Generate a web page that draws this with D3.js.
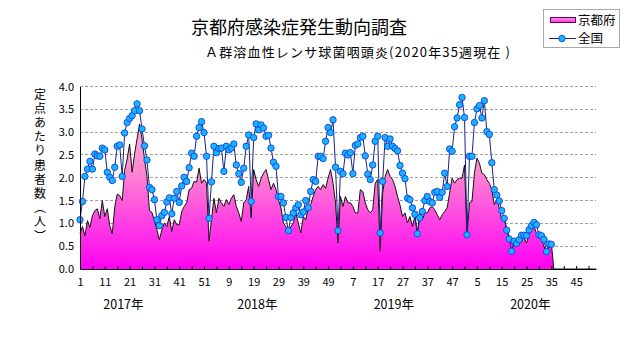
<!DOCTYPE html>
<html>
<head>
<meta charset="utf-8">
<script src="https://cdn.jsdelivr.net/npm/d3@7"></script>
<style>
  body { margin: 0; background: #fff; }
  svg { display: block; }
  text { font-family: "Noto Sans CJK JP", "Noto Sans", sans-serif; fill: #000; }
</style>
</head>
<body>
<svg id="chart" width="631" height="347"></svg>
<script>
// categories
const years = [2017, 2018, 2019, 2020];
const weeksInYear = [52, 52, 52, 53];
const yearLabelWeek = [18.5, 20.5, 23.5, 26.5];
const xTickLabels = ["1", "11", "21", "31", "41", "51", "9", "19", "29", "39", "49",
  "7", "17", "27", "37", "47", "5", "15", "25", "35", "45"];
const yTicks = [0, 0.5, 1, 1.5, 2, 2.5, 3, 3.5, 4];

// 京都府 (per sentinel, weekly)
const kyoto2017 = [0.78, 0.93, 0.73, 1.06, 0.91, 1.17, 1.28, 1.32, 1.10, 1.50,
  1.15, 1.32, 0.95, 0.77, 1.35, 1.64, 1.61, 1.50, 2.16, 2.41,
  2.74, 2.12, 2.52, 2.85, 3.18, 2.85, 2.41, 2.03, 1.28, 1.24,
  1.06, 0.86, 0.64, 0.86, 1.01, 0.93, 1.15, 0.82, 1.08, 0.97,
  0.97, 1.26, 1.37, 1.45, 1.74, 1.77, 1.92, 1.90, 2.21, 1.88,
  1.96, 1.88];
const kyoto2018 = [0.61, 1.08, 1.55, 1.23, 1.55, 1.45, 1.37, 1.52, 1.41, 1.55,
  1.63, 1.37, 1.23, 1.04, 1.45, 1.52, 1.81, 1.12, 2.18, 1.96,
  1.81, 1.99, 2.10, 2.18, 1.96, 1.74, 1.88, 1.74, 1.52, 1.34,
  1.01, 0.93, 0.79, 0.93, 1.01, 1.23, 1.01, 0.79, 1.15, 1.08,
  1.34, 1.41, 1.59, 1.74, 1.81, 1.74, 1.85, 1.77, 1.99, 2.18,
  1.88, 1.45];
const kyoto2019 = [0.57, 1.59, 1.37, 1.59, 1.45, 1.45, 1.37, 1.23, 1.23, 1.74,
  1.70, 1.45, 1.30, 1.23, 1.30, 1.88, 1.96, 0.39, 1.66, 2.03,
  2.18, 2.03, 1.96, 1.81, 1.59, 1.40, 1.15, 1.23, 1.01, 1.15,
  0.93, 1.15, 0.79, 1.23, 1.08, 1.23, 1.23, 1.34, 1.37, 1.30,
  1.19, 1.08, 1.19, 1.26, 1.34, 1.66, 1.99, 1.88, 1.96, 1.99,
  1.99, 2.28];
const kyoto2020 = [0.72, 1.45, 1.48, 2.10, 2.43, 2.32, 2.10, 2.07, 1.96, 1.88,
  1.74, 1.41, 1.52, 1.34, 1.08, 1.15, 0.86, 0.72, 0.57, 0.50,
  0.61, 0.72, 0.77, 0.68, 0.57, 0.75, 0.90, 0.93, 0.79, 0.72,
  0.66, 0.50, 0.35, 0.50, 0.57,
  0, 0, 0, 0, 0, 0, 0, 0, 0, 0, 0, 0, 0, 0, 0, 0, 0, 0];

// 全国
const zenkoku2017 = [1.08, 1.48, 2.03, 2.19, 2.36, 2.19, 2.52, 2.48, 2.47, 2.65,
  2.61, 2.12, 2.01, 1.94, 2.23, 2.69, 2.72, 2.03, 2.98, 3.21,
  3.30, 3.36, 3.47, 3.62, 3.47, 3.07, 2.70, 2.39, 1.79, 1.74,
  1.52, 1.08, 0.95, 1.17, 1.24, 1.47, 1.56, 1.21, 1.55, 1.70,
  1.46, 1.82, 2.01, 1.92, 2.22, 2.54, 2.47, 2.91, 3.10, 3.23,
  2.99, 2.47];
const zenkoku2018 = [1.11, 1.91, 2.69, 2.55, 2.64, 2.65, 2.14, 2.69, 2.61, 2.65,
  2.74, 2.28, 2.09, 1.90, 2.21, 2.69, 2.94, 1.48, 2.88, 3.18,
  3.05, 3.16, 3.09, 2.91, 2.93, 2.65, 2.34, 2.25, 1.59, 1.59,
  1.45, 1.13, 0.84, 1.13, 1.23, 1.34, 1.41, 1.19, 1.25, 1.50,
  1.34, 1.70, 1.96, 1.92, 2.47, 2.47, 2.42, 2.80, 3.10, 2.99,
  3.27, 2.23];
const zenkoku2019 = [0.84, 2.14, 2.09, 2.54, 2.50, 2.55, 2.09, 2.71, 2.74, 2.88,
  2.91, 2.48, 2.08, 1.96, 2.28, 2.80, 2.91, 0.79, 1.92, 2.88,
  2.69, 2.85, 2.69, 2.64, 2.59, 2.27, 2.10, 1.98, 1.55, 1.52,
  1.34, 1.20, 0.77, 1.12, 1.26, 1.50, 1.59, 1.48, 1.45, 1.68,
  1.70, 1.57, 1.68, 2.10, 1.81, 2.63, 2.58, 3.12, 3.31, 3.60,
  3.76, 3.32];
const zenkoku2020 = [0.75, 2.47, 2.47, 3.21, 3.51, 3.58, 3.31, 3.69, 3.01, 2.95,
  2.33, 1.74, 1.62, 1.49, 1.28, 1.11, 0.85, 0.66, 0.39, 0.61,
  0.56, 0.64, 0.74, 0.74, 0.73, 0.86, 0.95, 1.02, 0.97, 0.75,
  0.73, 0.65, 0.38, 0.55, 0.54];

const plotLeft = 80, plotRight = 596, plotTop = 86.5, plotBottom = 269;

// flatten year arrays into one running week index
function flatten(arrs) {
  let out = [];
  arrs.forEach(a => a.forEach(v => out.push({ i: out.length, v: v })));
  return out;
}
const kyoto = flatten([kyoto2017, kyoto2018, kyoto2019, kyoto2020]);
const zenkoku = flatten([zenkoku2017, zenkoku2018, zenkoku2019, zenkoku2020]);
const nWeeks = d3.sum(weeksInYear);
const yearStart = weeksInYear.map((w, k) => d3.sum(weeksInYear.slice(0, k)));

const x = d3.scaleLinear().domain([0, nWeeks - 1]).range([plotLeft, plotRight]);
const y = d3.scaleLinear().domain([0, 4]).range([plotBottom, plotTop]);

const svg = d3.select("#chart");

const defs = svg.append("defs");
const grad = defs.append("linearGradient")
  .attr("id", "pinkGrad")
  .attr("gradientUnits", "userSpaceOnUse")
  .attr("x1", 0).attr("x2", 0)
  .attr("y1", y(4)).attr("y2", y(0));
grad.append("stop").attr("offset", 0).attr("stop-color", "#ffc4e2");
grad.append("stop").attr("offset", 0.45).attr("stop-color", "#ff8ad0");
grad.append("stop").attr("offset", 1).attr("stop-color", "#ff00f4");

const legGrad = defs.append("linearGradient")
  .attr("id", "legGrad").attr("x1", 0).attr("x2", 0).attr("y1", 0).attr("y2", 1);
legGrad.append("stop").attr("offset", 0).attr("stop-color", "#ff9ad6");
legGrad.append("stop").attr("offset", 1).attr("stop-color", "#ff30e8");

// gridlines
svg.append("g")
  .selectAll("line")
  .data(yTicks.filter(d => d > 0))
  .join("line")
  .attr("x1", plotLeft).attr("x2", plotRight)
  .attr("y1", d => y(d)).attr("y2", d => y(d))
  .attr("stroke", "#a0a0a0")
  .attr("stroke-dasharray", "3,2")
  .attr("shape-rendering", "crispEdges");

// 京都府 area
const area = d3.area()
  .x(d => x(d.i))
  .y0(y(0))
  .y1(d => y(d.v));
svg.append("path")
  .datum(kyoto)
  .attr("d", area)
  .attr("fill", "url(#pinkGrad)");
svg.append("path")
  .datum(kyoto)
  .attr("d", d3.line().x(d => x(d.i)).y(d => y(d.v)))
  .attr("fill", "none")
  .attr("stroke", "#111")
  .attr("stroke-width", 1);

// 全国 line with markers
svg.append("path")
  .datum(zenkoku)
  .attr("d", d3.line().x(d => x(d.i)).y(d => y(d.v)))
  .attr("fill", "none")
  .attr("stroke", "#1a237e")
  .attr("stroke-width", 1);
svg.append("g")
  .selectAll("circle")
  .data(zenkoku)
  .join("circle")
  .attr("cx", d => x(d.i))
  .attr("cy", d => y(d.v))
  .attr("r", 3.2)
  .attr("fill", "#19b4ff")
  .attr("stroke", "#1040e0")
  .attr("stroke-width", 0.9);

// axes
const yAxis = svg.append("g")
  .attr("transform", `translate(${plotLeft},0)`)
  .call(d3.axisLeft(y).tickValues(yTicks).tickFormat(d3.format(".1f")).tickSize(0).tickPadding(6));
yAxis.select(".domain").attr("stroke", "#000");
yAxis.selectAll("text").attr("font-size", 11).attr("font-family", "\"Noto Sans CJK JP\"");

const minorTicks = d3.range(0, nWeeks, 5);
const labelTicks = d3.range(0, nWeeks, 10);
const xMinor = svg.append("g")
  .attr("transform", `translate(0,${plotBottom})`)
  .call(d3.axisBottom(x).tickValues(minorTicks).tickFormat("").tickSizeInner(-3).tickSizeOuter(0));
xMinor.selectAll("line").attr("stroke", "#000");
xMinor.select(".domain").attr("stroke", "#000");

const xLab = svg.append("g")
  .attr("transform", `translate(0,${plotBottom})`)
  .call(d3.axisBottom(x).tickValues(labelTicks).tickFormat((d, k) => xTickLabels[k]).tickSize(0).tickPadding(9));
xLab.select(".domain").remove();
xLab.selectAll("text").attr("font-size", 11).attr("font-family", "\"Noto Sans CJK JP\"");

// year labels
svg.append("g")
  .selectAll("text")
  .data(years)
  .join("text")
  .attr("x", (d, k) => x(yearStart[k] + yearLabelWeek[k] - 1))
  .attr("y", 309)
  .attr("text-anchor", "middle")
  .attr("font-size", 12.5)
  .text(d => d + "年");

// y axis title, vertical writing
svg.append("text")
  .attr("x", 40).attr("y", 88)
  .style("writing-mode", "vertical-rl")
  .style("text-orientation", "upright")
  .attr("font-size", 12)
  .attr("letter-spacing", 2.2)
  .text("定点あたり患者数（人）");

// titles
svg.append("text")
  .attr("x", 299).attr("y", 34)
  .attr("text-anchor", "middle")
  .attr("font-size", 18)
  .text("京都府感染症発生動向調査");
svg.append("text")
  .attr("x", 205).attr("y", 57)
  .attr("font-size", 13)
  .attr("textLength", 305)
  .attr("lengthAdjust", "spacing")
  .text("Ａ群溶血性レンサ球菌咽頭炎(2020年35週現在 )");

// legend
const leg = svg.append("g");
leg.append("rect")
  .attr("x", 543.5).attr("y", 9.5).attr("width", 76).attr("height", 38)
  .attr("fill", "#fff").attr("stroke", "#a8a8a8");
leg.append("rect")
  .attr("x", 550.5).attr("y", 17.5).attr("width", 25).attr("height", 5)
  .attr("fill", "url(#legGrad)").attr("stroke", "#600060");
leg.append("text").attr("x", 578).attr("y", 25).attr("font-size", 12.5).text("京都府");
leg.append("line")
  .attr("x1", 549).attr("x2", 576).attr("y1", 38.5).attr("y2", 38.5)
  .attr("stroke", "#1a237e");
leg.append("circle")
  .attr("cx", 562).attr("cy", 38.5).attr("r", 3.2)
  .attr("fill", "#19b4ff").attr("stroke", "#1040e0").attr("stroke-width", 0.9);
leg.append("text").attr("x", 578).attr("y", 43).attr("font-size", 12.5).text("全国");
</script>
</body>
</html>
